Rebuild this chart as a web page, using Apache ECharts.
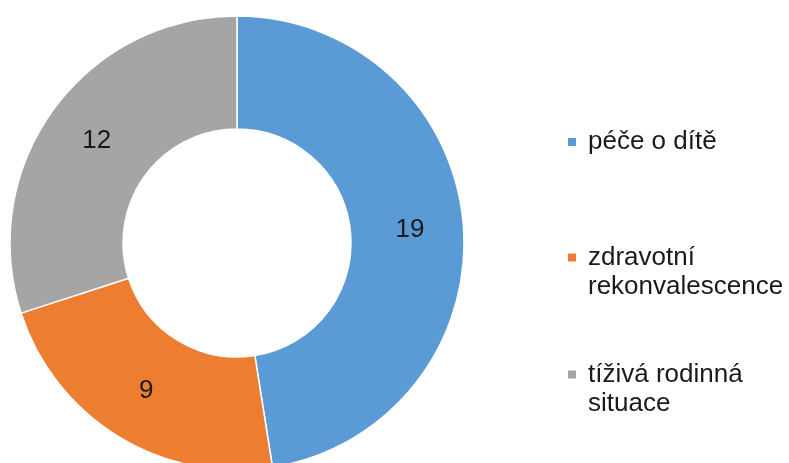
<!DOCTYPE html>
<html>
<head>
<meta charset="utf-8">
<script src="https://cdn.jsdelivr.net/npm/echarts@6/dist/echarts.min.js"></script>
<style>
  html, body { margin: 0; padding: 0; background: #fff; }
  #chart { width: 789px; height: 463px; }
</style>
</head>
<body>
<div id="chart"></div>
<script>
const categories = ['péče o dítě', 'zdravotní\nrekonvalescence', 'tíživá rodinná\nsituace'];
const values = [19, 9, 12];
const colors = ['#5B9BD5', '#ED7D31', '#A5A5A5'];

// one legend per item so the gaps can differ like in the original
const legendTops = [127.5, 214, 331];

const myChart = echarts.init(document.getElementById('chart'));

const legends = categories.map((name, i) => {
  const twoLines = name.indexOf('\n') >= 0;
  return {
    data: [name],
    left: 566,
    top: legendTops[i],
    padding: 0,
    itemWidth: 10,
    itemHeight: 10,
    icon: 'rect',
    selectedMode: false,
    // blank first line keeps the icon next to the first text line
    formatter: (n) => (twoLines ? '\n' + n : n),
    textStyle: {
      fontFamily: 'Liberation Sans, Arial, sans-serif',
      fontSize: 26,
      lineHeight: 29,
      color: '#1a1a1a',
      padding: [0, 0, 0, 6],
    },
  };
});

myChart.setOption({
  animation: false,
  color: colors,
  legend: legends,
  series: [
    {
      type: 'pie',
      center: [237, 243],
      radius: [114, 227],
      startAngle: 90,
      clockwise: true,
      avoidLabelOverlap: false,
      itemStyle: {
        borderColor: '#fff',
        borderWidth: 1.5,
      },
      label: {
        show: true,
        position: 'inside',
        formatter: '{c}',
        fontFamily: 'Liberation Sans, Arial, sans-serif',
        fontSize: 26,
        color: '#1a1a1a',
      },
      labelLine: { show: false },
      emphasis: { disabled: true },
      data: categories.map((name, i) => ({ name: name, value: values[i] })),
    },
  ],
});
</script>
</body>
</html>
